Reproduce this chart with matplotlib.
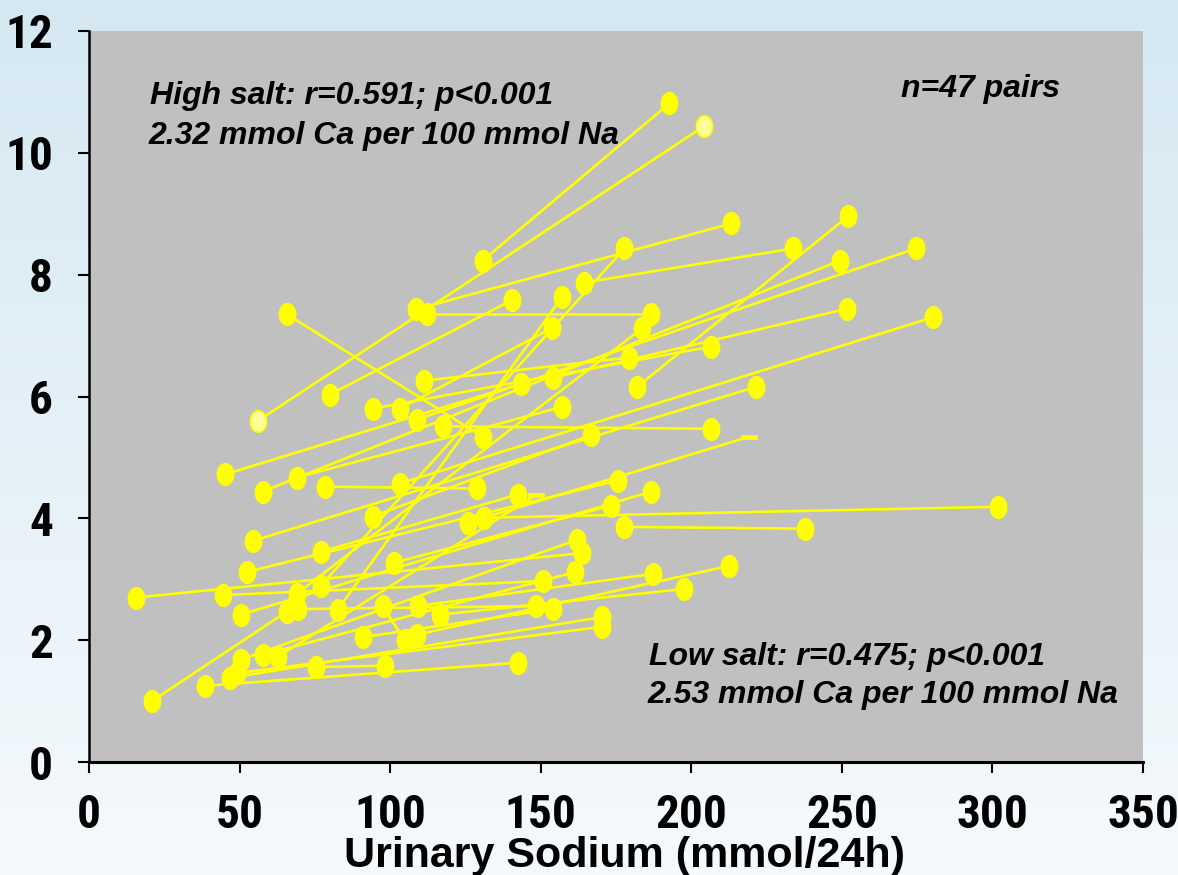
import numpy as np
import matplotlib
matplotlib.use("Agg")
import matplotlib.pyplot as plt
from matplotlib.path import Path
from matplotlib import font_manager as fm

# ---- data: each pair = one subject (left point -> right point) ----
na_a = [130.7, 56.1, 108.5, 112.4, 65.7, 79.9, 164.5, 57.7, 108.8, 103.2,
        117.4, 103.2, 94.2, 182.1, 69.0, 76.9, 82.6, 111.4, 45.1, 69.0,
        154.2, 20.9, 38.5, 75.3, 108.8, 97.5, 109.1, 116.7, 46.8, 49.1,
        131.3, 177.8, 54.4, 94.2, 78.3, 52.4, 76.9, 62.7, 126.0, 101.2,
        50.4, 15.6, 44.4, 69.3, 50.4, 57.7, 90.9]
ca_a = [8.23, 5.60, 7.43, 7.35, 7.35, 6.03, 7.87, 4.44, 5.62, 4.57,
        5.51, 5.80, 5.80, 6.16, 2.76, 2.89, 2.50, 6.26, 4.72, 4.67,
        6.31, 1.00, 1.25, 1.56, 2.09, 2.56, 2.56, 2.42, 1.38, 1.46,
        4.01, 3.86, 3.63, 4.03, 4.52, 3.12, 3.45, 1.73, 3.93, 3.27,
        2.42, 2.70, 2.74, 2.51, 1.68, 1.76, 2.05]
na_b = [192.7, 204.3, 213.3, 186.7, 130.7, 140.3, 233.8, 249.4, 274.6, 280.3,
        206.6, 153.6, 206.6, 252.1, 183.7, 177.8, 157.2, 179.4, 143.3, 157.2,
        251.7, 65.7, 142.3, 98.2, 212.6, 104.8, 187.4, 197.7, 170.5, 170.5,
        301.8, 237.8, 221.6, 166.8, 129.0, 175.5, 142.3, 148.6, 219.2, 173.5,
        186.7, 163.8, 150.6, 148.3, 162.2, 161.5, 154.2]
ca_b = [10.81, 10.44, 8.84, 7.35, 5.34, 7.58, 8.43, 8.23, 8.43, 7.30,
        5.47, 7.12, 6.82, 8.96, 7.12, 8.43, 7.64, 6.64, 6.21, 5.83,
        7.44, 2.47, 1.63, 1.58, 3.22, 2.00, 3.09, 2.84, 2.38, 2.22,
        4.19, 3.83, 6.16, 5.37, 4.49, 4.62, 4.39, 4.39, 5.34, 4.21,
        4.44, 3.43, 2.97, 2.56, 3.65, 3.12, 2.51]

x_ticks = [0, 50, 100, 150, 200, 250, 300, 350]
y_ticks = [0, 2, 4, 6, 8, 10, 12]

highlight_pair = [1]          # pair drawn with pale markers
dash_end_pairs = [37, 38]     # pairs whose right end is drawn as a dash

YEL = "#FFFF00"
PALE = "#FFFF99"
txt_font = ["Liberation Sans", "DejaVu Sans"]


def find_condensed_bold():
    prefs = ["Liberation Sans Narrow", "Roboto Condensed", "Open Sans Condensed",
             "Noto Sans Condensed", "DejaVu Sans Condensed", "Noto Sans", "Open Sans",
             "DejaVu Sans", "Roboto", "Inter"]
    found = []
    for f in fm.fontManager.ttflist:
        try:
            w = int(f.weight)
        except (TypeError, ValueError):
            w = 700 if "bold" in str(f.weight).lower() else 400
        stretch = str(f.stretch).lower()
        is_cond = ("narrow" in f.name.lower() or "condensed" in f.name.lower()
                   or stretch in ("condensed", "semi-condensed", "extra-condensed",
                                  "ultra-condensed")
                   or "condensed" in f.fname.lower() or "narrow" in f.fname.lower())
        if is_cond and 600 <= w <= 800 and f.style == "normal" \
                and "semi" not in f.fname.lower():
            rank = len(prefs)
            for k, p in enumerate(prefs):
                if f.name.startswith(p):
                    rank = k
                    break
            found.append((rank, f.fname))
    if found:
        found.sort()
        return found[0][1]
    return None


cond_file = find_condensed_bold()
if cond_file:
    tick_fp = fm.FontProperties(fname=cond_file, size=34)
else:
    tick_fp = fm.FontProperties(family="Liberation Sans", weight="bold", size=25)

fig = plt.figure(figsize=(11.78, 8.75), dpi=100)

# background gradient
bg = fig.add_axes([0, 0, 1, 1], zorder=-10)
top = np.array([0.835, 0.910, 0.950])
bot = np.array([0.960, 0.978, 0.990])
t = np.linspace(0, 1, 256)[:, None]
grad = (top[None, :] * (1 - t) + bot[None, :] * t)[:, None, :]
grad = np.repeat(grad, 4, axis=1)
bg.imshow(grad, aspect="auto", extent=[0, 1, 0, 1], origin="upper")
bg.axis("off")

ax = fig.add_axes([89 / 1178, 1 - 762 / 875, (1143 - 89) / 1178, (762 - 31) / 875])
ax.set_facecolor("#C0C0C0")
ax.set_xlim(0, 350)
ax.set_ylim(0, 12)

# elliptical marker
th = np.linspace(0, 2 * np.pi, 64)
ell = Path(np.column_stack([0.75 * np.cos(th), np.sin(th)]), closed=True)
dash = Path([(-1.5, -0.35), (1.5, -0.35), (1.5, 0.35), (-1.5, 0.35), (-1.5, -0.35)], closed=True)

for i in range(len(na_a)):
    ax.plot([na_a[i], na_b[i]], [ca_a[i], ca_b[i]], color=YEL, lw=1.9,
            solid_capstyle="butt", zorder=2)

MS = 15.5
for i in range(len(na_a)):
    fc = PALE if i in highlight_pair else YEL
    ax.plot([na_a[i]], [ca_a[i]], ls="none", marker=ell, ms=MS,
            mfc=fc, mec=YEL, mew=1.2, zorder=3)
    if i in dash_end_pairs:
        ax.plot([na_b[i]], [ca_b[i]], ls="none", marker=dash, ms=11,
                mfc=YEL, mec=YEL, mew=0.5, zorder=3)
    else:
        ax.plot([na_b[i]], [ca_b[i]], ls="none", marker=ell, ms=MS,
                mfc=fc, mec=YEL, mew=1.2, zorder=3)

for s in ["top", "right"]:
    ax.spines[s].set_visible(False)
ax.spines["left"].set_linewidth(1.8)
ax.spines["bottom"].set_linewidth(2.2)

ax.set_xticks(x_ticks)
ax.set_yticks(y_ticks)
ax.set_xticklabels([str(v) for v in x_ticks])
ax.set_yticklabels([str(v) for v in y_ticks])
ax.tick_params(axis="x", direction="out", length=8, width=1.5, pad=14, colors="black")
ax.tick_params(axis="y", direction="out", length=8, width=1.5, pad=18, colors="black")
for lab in ax.get_xticklabels() + ax.get_yticklabels():
    lab.set_fontproperties(tick_fp)

fig.text(625 / 1178, 1 - 867 / 875, "Urinary Sodium (mmol/24h)", ha="center",
         va="baseline", fontsize=31, fontweight="bold", family=txt_font)

kw = dict(fontsize=23, fontweight="bold", fontstyle="italic", family=txt_font,
          va="baseline", ha="left", zorder=5)
ax.text(20.2, 10.80, "High salt: r=0.591; p<0.001", **kw)
ax.text(19.8, 10.15, "2.32 mmol Ca per 100 mmol Na", **kw)
ax.text(269.7, 10.91, "n=47 pairs", **kw)
ax.text(186.1, 1.59, "Low salt: r=0.475; p<0.001", **kw)
ax.text(185.4, 0.97, "2.53 mmol Ca per 100 mmol Na", **kw)

fig.savefig("out.png", dpi=100)
